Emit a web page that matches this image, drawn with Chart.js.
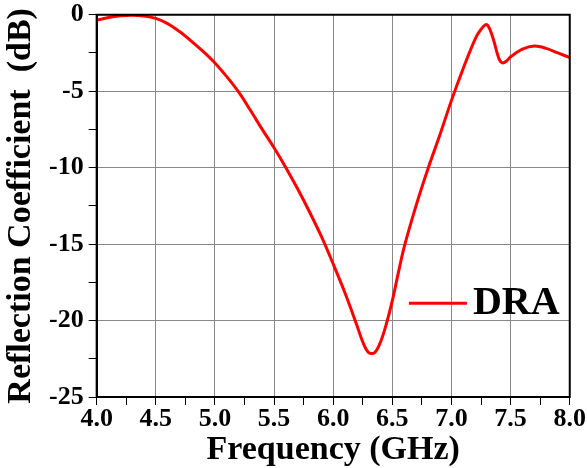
<!DOCTYPE html>
<html>
<head>
<meta charset="utf-8">
<script src="https://cdn.jsdelivr.net/npm/chart.js@4.4.1/dist/chart.umd.min.js"></script>
<style>
    html, body { margin: 0; padding: 0; background: #fff; }
    #wrap { width: 587px; height: 468px; position: relative; }
</style>
</head>
<body>
<div id="wrap"><canvas id="chart-s11"></canvas></div>
<script>
// frequency points (GHz) and reflection coefficient (dB)
var freq = [4.00, 4.10, 4.20, 4.30, 4.40, 4.50, 4.60, 4.70, 4.80, 4.90,
            5.00, 5.10, 5.20, 5.30, 5.40, 5.50, 5.60, 5.70, 5.80, 5.90,
            6.00, 6.10, 6.20, 6.25, 6.30, 6.35, 6.40, 6.45, 6.50, 6.55,
            6.60, 6.70, 6.80, 6.90, 7.00, 7.10, 7.20, 7.25, 7.30, 7.35,
            7.40, 7.43, 7.47, 7.50, 7.60, 7.70, 7.80, 7.90, 8.00];
var dra  = [-0.35, -0.18, -0.07, -0.03, -0.08, -0.24, -0.58, -1.10, -1.72, -2.40,
            -3.15, -4.05, -5.05, -6.25, -7.50, -8.70, -10.0, -11.4, -12.9, -14.5,
            -16.3, -18.2, -20.3, -21.4, -22.1, -22.1, -21.4, -20.2, -18.7, -16.9,
            -15.2, -12.5, -10.1, -7.90, -5.60, -3.50, -1.60, -0.95, -0.65, -1.50,
            -2.85, -3.15, -3.00, -2.75, -2.25, -2.05, -2.20, -2.50, -2.80];
var xTicks = [4.0, 4.5, 5.0, 5.5, 6.0, 6.5, 7.0, 7.5, 8.0];
var yTicks = [0, -5, -10, -15, -20, -25];

var fontFam = "'Liberation Serif', 'Times New Roman', serif";

// frame round the plot area + inside legend
var framePlugin = {
    id: 'frame',
    afterDraw: function(chart) {
        let ctx = chart.ctx;
        let a = chart.chartArea;
        ctx.save();
        ctx.strokeStyle = '#000';
        ctx.lineWidth = 2;
        ctx.strokeRect(a.left, a.top, a.right - a.left, a.bottom - a.top);

        // legend
        let ds = chart.data.datasets[0];
        let w = a.right - a.left, h = a.bottom - a.top;
        let lx = a.left + w * 0.66;
        let ly = a.top + h * 0.755;
        ctx.strokeStyle = ds.borderColor;
        ctx.lineWidth = 3;
        ctx.beginPath();
        ctx.moveTo(lx, ly);
        ctx.lineTo(lx + 58, ly);
        ctx.stroke();
        ctx.fillStyle = '#000';
        ctx.font = "bold 40px " + fontFam;
        ctx.textBaseline = 'middle';
        ctx.fillText(ds.label, lx + 64, ly);
        ctx.restore();
    }
};

var points = freq.map(function(f, i) { return {x: f, y: dra[i]}; });

new Chart(document.getElementById('chart-s11').getContext('2d'), {
    type: 'line',
    data: {
        datasets: [{
            label: 'DRA',
            data: points,
            borderColor: '#ff0000',
            borderWidth: 3,
            pointRadius: 0,
            fill: false,
            tension: 0.35
        }]
    },
    options: {
        responsive: true,
        maintainAspectRatio: false,
        animation: false,
        layout: { padding: { top: 0, right: 0, left: 4, bottom: 1 } },
        plugins: {
            legend: { display: false },
            tooltip: { enabled: false }
        },
        scales: {
            x: {
                type: 'linear',
                min: 4, max: 8,
                border: { display: true, color: '#000', width: 2 },
                grid: {
                    color: function(c) {
                        return xTicks.indexOf(c.tick.value) >= 0 ? '#888' : 'transparent';
                    },
                    tickColor: '#000',
                    tickLength: 8,
                    lineWidth: 1
                },
                ticks: {
                    stepSize: 0.25,
                    autoSkip: false,
                    maxRotation: 0,
                    color: '#000',
                    padding: 1,
                    font: { family: fontFam, size: 26, weight: 'bold', lineHeight: 1 },
                    callback: function(v) {
                        return xTicks.indexOf(v) >= 0 ? v.toFixed(1) : '';
                    }
                },
                title: {
                    display: true,
                    text: 'Frequency (GHz)',
                    color: '#000',
                    padding: { top: 0, bottom: 0 },
                    font: { family: fontFam, size: 34, weight: 'bold', lineHeight: 1 }
                }
            },
            y: {
                min: -25, max: 0,
                border: { display: true, color: '#000', width: 2 },
                grid: {
                    color: function(c) {
                        return yTicks.indexOf(c.tick.value) >= 0 ? '#888' : 'transparent';
                    },
                    tickColor: '#000',
                    tickLength: 8,
                    lineWidth: 1
                },
                ticks: {
                    stepSize: 2.5,
                    autoSkip: false,
                    color: '#000',
                    padding: 5,
                    font: { family: fontFam, size: 26, weight: 'bold', lineHeight: 0.75 },
                    callback: function(v) {
                        return yTicks.indexOf(v) >= 0 ? String(v) : '';
                    }
                },
                title: {
                    display: true,
                    text: 'Reflection Coefficient  (dB)',
                    color: '#000',
                    padding: { top: 0, bottom: 6 },
                    font: { family: fontFam, size: 34, weight: 'bold', lineHeight: 1 }
                }
            }
        }
    },
    plugins: [framePlugin]
});
</script>
</body>
</html>
